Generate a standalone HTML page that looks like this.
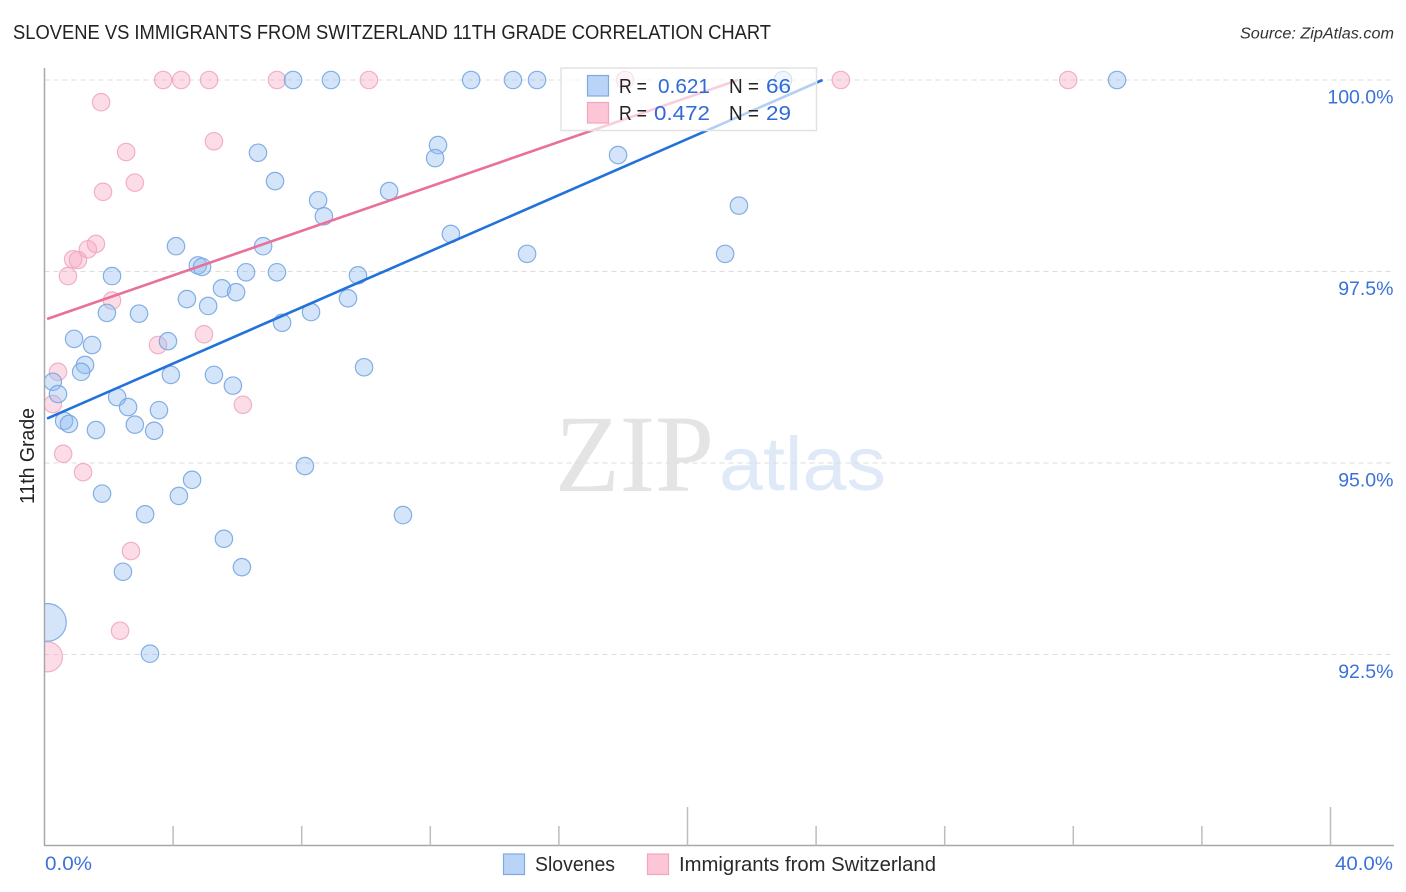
<!DOCTYPE html>
<html lang="en">
<head>
<meta charset="utf-8">
<title>Slovene vs Immigrants from Switzerland 11th Grade Correlation Chart</title>
<style>
html,body{margin:0;padding:0;background:#fff;}
svg{display:block;font-family:"Liberation Sans",sans-serif;}
</style>
</head>
<body>
<svg id="chart" xmlns="http://www.w3.org/2000/svg" width="1406" height="892" viewBox="0 0 1406 892">
  <text x="13" y="39" font-size="20" fill="#222" textLength="758" lengthAdjust="spacingAndGlyphs">SLOVENE VS IMMIGRANTS FROM SWITZERLAND 11TH GRADE CORRELATION CHART</text>
  <text x="1394" y="38.5" font-size="15.5" font-style="italic" fill="#333" text-anchor="end" textLength="154" lengthAdjust="spacingAndGlyphs">Source: ZipAtlas.com</text>
  <text x="555" y="491" font-family="'Liberation Serif',serif" font-size="110" fill="#e4e4e4" textLength="159" lengthAdjust="spacingAndGlyphs">ZIP</text>
  <text x="719" y="490" font-size="76" fill="#dfe9f8" textLength="167" lengthAdjust="spacingAndGlyphs">atlas</text>
  <g id="grid"></g>
  <g id="pink-points"></g>
  <g id="blue-points"></g>
  <rect x="0" y="60" width="44.5" height="786" fill="#fff"/>
  <g id="axes"></g>
  <g id="trends"></g>
  <g>
    <rect x="561" y="68" width="255.500" height="62.500" fill="#fff" fill-opacity="0.66" stroke="#e2e2e2" stroke-width="1.500"/>
    <rect x="587.500" y="75.500" width="21" height="20.500" fill="#b9d4f6" stroke="#7ea9e2" stroke-width="1.200"/>
    <rect x="587.500" y="102.500" width="21" height="20.500" fill="#fcc6d6" stroke="#f3a6bd" stroke-width="1.200"/>
    <text x="619" y="93" font-size="20" fill="#222" textLength="28" lengthAdjust="spacingAndGlyphs">R =</text>
    <text x="658" y="93" font-size="20.500" fill="#2f6ad6" textLength="52" lengthAdjust="spacingAndGlyphs">0.621</text>
    <text x="729" y="93" font-size="20" fill="#222" textLength="30" lengthAdjust="spacingAndGlyphs">N =</text>
    <text x="766" y="93" font-size="20.500" fill="#2f6ad6" textLength="25" lengthAdjust="spacingAndGlyphs">66</text>
    <text x="619" y="120" font-size="20" fill="#222" textLength="28" lengthAdjust="spacingAndGlyphs">R =</text>
    <text x="654" y="120" font-size="20.500" fill="#2f6ad6" textLength="56" lengthAdjust="spacingAndGlyphs">0.472</text>
    <text x="729" y="120" font-size="20" fill="#222" textLength="30" lengthAdjust="spacingAndGlyphs">N =</text>
    <text x="766" y="120" font-size="20.500" fill="#2f6ad6" textLength="25" lengthAdjust="spacingAndGlyphs">29</text>
  </g>
  <text transform="translate(34,456) rotate(-90)" font-size="20" fill="#222" text-anchor="middle" textLength="96" lengthAdjust="spacingAndGlyphs">11th Grade</text>
  <g>
    <rect x="503.500" y="854" width="21" height="20.500" fill="#b9d4f6" stroke="#7ea9e2" stroke-width="1.200"/>
    <text x="535" y="871" font-size="20" fill="#2a2a2a" textLength="80" lengthAdjust="spacingAndGlyphs">Slovenes</text>
    <rect x="647.500" y="854" width="21" height="20.500" fill="#fcc6d6" stroke="#f3a6bd" stroke-width="1.200"/>
    <text x="679" y="871" font-size="20" fill="#2a2a2a" textLength="257" lengthAdjust="spacingAndGlyphs">Immigrants from Switzerland</text>
  </g>
</svg>
<script>
const xTicks = [0,4,8,12,16,20,24,28,32,36,40];
const xMajorTicks = [0,20,40];
const xEdgeLabels = ["0.0%","40.0%"];
const yTicks = [100,97.5,95,92.5];
const yTickLabels = ["100.0%","97.5%","95.0%","92.5%"];

const blueX = [7.73,8.91,13.27,14.57,15.32,22.97,33.36,6.64,7.17,8.51,8.69,10.72,12.24,12.15,17.84,21.60,21.17,15.01,12.64,4.09,6.80,4.77,4.90,2.10,6.27,7.23,9.75,4.43,5.52,5.96,5.09,9.44,2.94,1.94,8.29,7.39,0.92,1.48,3.84,1.26,1.14,3.93,5.27,5.86,9.94,0.26,0.42,2.26,2.60,3.56,0.61,0.76,1.60,2.81,3.41,8.10,4.59,1.79,4.18,3.13,11.15,5.58,2.44,6.14,3.28,0.09];
const blueY = [100,100,100,100,100,100,100,99.05,98.68,98.43,98.22,98.55,99.15,98.98,99.02,98.36,97.73,97.73,97.99,97.83,97.83,97.58,97.56,97.44,97.49,97.49,97.45,97.14,97.28,97.23,97.05,97.15,96.95,96.96,96.97,96.83,96.62,96.54,96.59,96.28,96.19,96.15,96.15,96.01,96.25,96.06,95.90,95.86,95.73,95.69,95.55,95.51,95.43,95.50,95.42,94.96,94.78,94.60,94.57,94.33,94.32,94.01,93.58,93.64,92.51,92.92];
const blueWeight = [1,1,1,1,1,1,1,1,1,1,1,1,1,1,1,1,1,1,1,1,1,1,1,1,1,1,1,1,1,1,1,1,1,1,1,1,1,1,1,1,1,1,1,1,1,1,1,1,1,1,1,1,1,1,1,1,1,1,1,1,1,1,1,1,1,4.7];

const pinkX = [3.69,4.25,5.12,7.23,10.09,18.06,24.77,31.84,1.76,5.27,2.54,1.82,2.81,1.60,1.35,0.89,1.04,0.73,2.10,4.96,3.53,0.42,0.26,6.17,0.58,1.20,2.69,2.35,0.09];
const pinkY = [100,100,100,100,100,100,100,100,99.71,99.20,99.06,98.54,98.66,97.86,97.79,97.66,97.65,97.44,97.12,96.68,96.54,96.19,95.77,95.76,95.12,94.88,93.85,92.81,92.47];
const pinkWeight = [1,1,1,1,1,1,1,1,1,1,1,1,1,1,1,1,1,1,1,1,1,1,1,1,1,1,1,1,3.0];

const blueTrendX = [0.08,24.2];
const blueTrendY = [95.58,100];
const pinkTrendX = [0.08,21.57];
const pinkTrendY = [96.88,100];

const NS = 'http://www.w3.org/2000/svg';
const xScale = v => 44.5 + v * 32.15;
const yScale = v => 80 + (100 - v) * 76.6;

function make(tag, attrs, parent) {
  const el = document.createElementNS(NS, tag);
  for (const k in attrs) el.setAttribute(k, attrs[k]);
  parent.appendChild(el);
  return el;
}

const gridG = document.getElementById('grid');
const axesG = document.getElementById('axes');

yTicks.forEach((t, i) => {
  const line = make('line', {x1: 44.5, x2: 1394, y1: yScale(t), y2: yScale(t), stroke: '#dcdcdc', 'stroke-width': 1, 'stroke-dasharray': '5 4'}, gridG);
  
  
  const label = make('text', {x: 1393.5, y: yScale(t) + 23.5, 'font-size': 19.5, fill: '#3b72d9', 'text-anchor': 'end'}, axesG);
  label.textContent = yTickLabels[i];
  
  
});

const yAxis = make('line', {x1: 44.5, x2: 44.5, y1: 68, y2: 846, stroke: '#a8a8a8', 'stroke-width': 1.5}, axesG);


const xAxis = make('line', {x1: 44, x2: 1394, y1: 845.5, y2: 845.5, stroke: '#a8a8a8', 'stroke-width': 1.5}, axesG);



xTicks.forEach(t => {
  if (t === 0) return;
  const top = xMajorTicks.includes(t) ? 807 : 826;
  const tick = make('line', {x1: xScale(t), x2: xScale(t), y1: top, y2: 845.5, stroke: '#bdbdbd', 'stroke-width': 1.5}, axesG);
  
  
});

const xStart = make('text', {x: 45, y: 870, 'font-size': 19.5, fill: '#3b72d9', textLength: 47, lengthAdjust: 'spacingAndGlyphs'}, axesG);
xStart.textContent = xEdgeLabels[0];


const xEnd = make('text', {x: 1335, y: 870, 'font-size': 19.5, fill: '#3b72d9', textLength: 58, lengthAdjust: 'spacingAndGlyphs'}, axesG);
xEnd.textContent = xEdgeLabels[1];



const baseR = 8.7;
const pinkG = document.getElementById('pink-points');
pinkX.forEach((v, i) => {
  const c = make('circle', {cx: xScale(v), cy: yScale(pinkY[i]), r: baseR * Math.sqrt(pinkWeight[i]), fill: '#f8a5bf', 'fill-opacity': 0.38, stroke: '#f0a8c0', 'stroke-opacity': 0.9, 'stroke-width': 1.2}, pinkG);
  
  
});

const blueG = document.getElementById('blue-points');
blueX.forEach((v, i) => {
  const c = make('circle', {cx: xScale(v), cy: yScale(blueY[i]), r: baseR * Math.sqrt(blueWeight[i]), fill: '#8fbaf0', 'fill-opacity': 0.38, stroke: '#78a6e2', 'stroke-opacity': 0.9, 'stroke-width': 1.2}, blueG);
  
  
});

const trendG = document.getElementById('trends');
const pinkLine = make('line', {x1: xScale(pinkTrendX[0]), y1: yScale(pinkTrendY[0]), x2: xScale(pinkTrendX[1]), y2: yScale(pinkTrendY[1]), stroke: '#e8709a', 'stroke-width': 2.6}, trendG);


const blueLine = make('line', {x1: xScale(blueTrendX[0]), y1: yScale(blueTrendY[0]), x2: xScale(blueTrendX[1]), y2: yScale(blueTrendY[1]), stroke: '#2272d9', 'stroke-width': 2.6}, trendG);


</script>
</body>
</html>
